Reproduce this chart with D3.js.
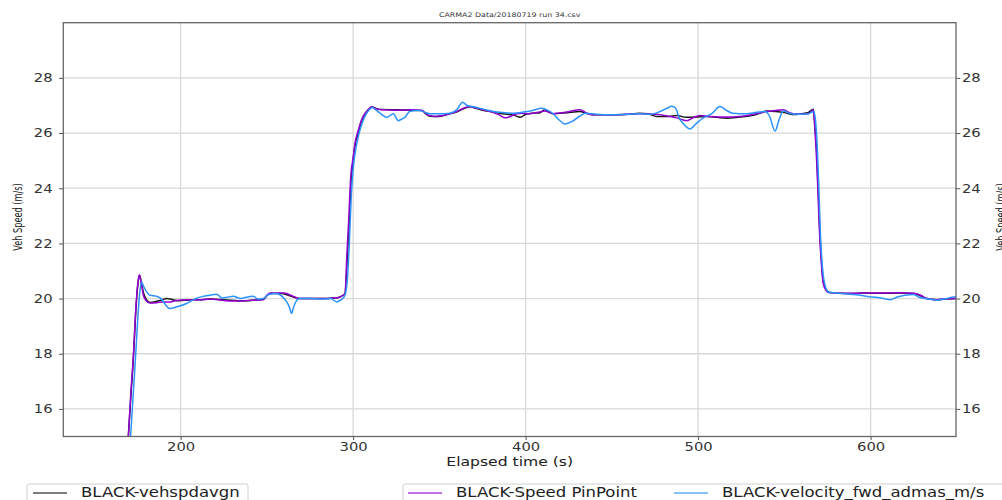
<!DOCTYPE html>
<html>
<head>
<meta charset="utf-8">
<script src="https://cdn.jsdelivr.net/npm/d3@7"></script>
<style>
  html, body { margin: 0; padding: 0; background: #fff; }
  svg { display: block; }
  text { font-family: "DejaVu Sans", sans-serif; }
</style>
</head>
<body>
<svg id="chart" width="1002" height="500"></svg>
<script>
// ---- data: elapsed time (s) and vehicle speed (m/s) per channel ----
const titleText = "CARMA2 Data/20180719 run 34.csv";
const xTicks = [200, 300, 400, 500, 600];
const yTicks = [16, 18, 20, 22, 24, 26, 28];
const seriesNames = ["BLACK-vehspdavgn", "BLACK-Speed PinPoint", "BLACK-velocity_fwd_admas_m/s"];

const vehspdavgn = [
  [167.5,13.0],[169.7,15.0],[171.2,16.5],[172.6,17.8],[174,19.5],[175.2,20.5],[176.1,20.85],[177.2,20.6],
  [178.5,20.2],[180.3,19.95],[182.3,19.86],[186,19.9],[189,19.95],[192,20.0],[196,19.95],[199,19.92],
  [205,19.95],[211,19.96],[217,19.98],[225,19.96],[236,19.92],[244,19.95],[248,19.97],[250,20.1],
  [252,20.18],[258.6,20.18],[262,20.13],[265.3,20.06],[269,20.0],[275,20.0],[282,20.0],[288.5,20.02],
  [292,20.05],[295.3,20.18],[296.6,21.4],[297.6,22.5],[298.8,24.2],[300,25.0],[301,25.5],[303,26.0],
  [305,26.45],[307,26.7],[309,26.85],[310.8,26.95],[313,26.9],[316,26.85],[325,26.84],[333,26.83],
  [340,26.82],[342,26.7],[344,26.62],[348,26.6],[352,26.63],[356,26.7],[360,26.76],[364,26.88],
  [367.8,26.95],[371,26.9],[375,26.83],[381,26.77],[387,26.7],[393,26.65],[397,26.57],[400,26.68],
  [404,26.72],[408,26.73],[411,26.84],[414,26.75],[416,26.7],[424,26.74],[431.5,26.78],[435,26.72],
  [439,26.66],[450,26.66],[460,26.68],[466,26.72],[471,26.7],[476,26.6],[482,26.6],[487.6,26.64],
  [493,26.57],[499,26.58],[505,26.6],[511,26.57],[516.6,26.54],[524,26.58],[532,26.64],[536,26.72],
  [539.8,26.8],[545,26.78],[550,26.74],[555,26.67],[560,26.7],[564,26.75],[566.8,26.86],[567.8,26.2],
  [568.7,25.3],[569.6,24.0],[570.5,22.5],[571.3,21.6],[572.6,20.6],[574,20.35],[575.5,20.24],[580,20.2],
  [590,20.18],[596,20.2],[605,20.19],[615,20.2],[625,20.18],[629,20.1],[632.5,20.0],[638,19.96],
  [644,19.98],[650,20.0]
];

const speedPinPoint = [
  [167.5,13.0],[169.7,15.0],[171.2,16.6],[172.6,17.9],[174,19.6],[175.2,20.55],[176.1,20.85],[177.2,20.55],
  [178.5,20.1],[180.3,19.9],[182.3,19.84],[186,19.85],[190,19.88],[194,19.88],[197,19.92],[200,19.95],
  [211,19.96],[217,19.98],[225,19.93],[230.5,19.91],[240,19.93],[248,19.97],[250,20.12],[252,20.2],
  [260,20.2],[265.3,20.08],[269,20.0],[275,20.0],[282,20.0],[288.5,20.02],[292,20.05],[295.3,20.18],
  [296.4,21.6],[297.4,22.8],[298.6,24.4],[300,25.1],[301,25.6],[303,26.1],[305,26.5],[307,26.72],
  [309,26.87],[310.8,26.95],[313,26.88],[318,26.84],[325,26.83],[333,26.84],[340,26.82],[342,26.72],
  [344,26.64],[348,26.6],[352,26.64],[356,26.7],[360,26.78],[364,26.9],[367.8,26.96],[371,26.92],
  [375,26.85],[381,26.75],[385,26.65],[388,26.55],[391,26.6],[395,26.7],[398,26.72],[402,26.7],
  [408,26.76],[411,26.8],[416,26.7],[424,26.76],[431.5,26.84],[435,26.74],[439,26.66],[450,26.66],
  [460,26.68],[466,26.7],[476,26.68],[482,26.62],[487.6,26.55],[493.4,26.45],[497,26.55],[501,26.64],
  [507,26.6],[516.6,26.58],[524,26.6],[532,26.68],[539.8,26.78],[545,26.82],[549.4,26.84],[553,26.74],
  [558,26.68],[564,26.7],[566.8,26.84],[567.6,26.2],[568.5,25.3],[569.4,24.0],[570.3,22.5],[571.1,21.6],
  [572.4,20.6],[573.8,20.33],[575.5,20.22],[580,20.2],[590,20.19],[596,20.2],[605,20.2],[615,20.21],
  [625,20.19],[629,20.12],[632.5,20.0],[638,19.96],[644,19.99],[650,20.0]
];

const velocityFwdAdmas = [
  [168.5,13.0],[171,15.0],[172.4,16.4],[173.8,17.8],[175.2,19.3],[176.3,20.2],[177.4,20.6],[178.5,20.45],
  [180.3,20.24],[182.3,20.12],[186.1,20.08],[189,19.98],[191,19.8],[193.9,19.64],[197.7,19.7],[203.5,19.82],
  [208,19.98],[213,20.08],[217,20.12],[220.9,20.16],[224,20.02],[227,20.05],[230.5,20.08],[235,20.0],
  [238,20.05],[242.1,20.08],[245,19.98],[248,20.0],[251,20.15],[255,20.18],[257.6,20.14],[260,20.0],
  [261.5,19.88],[263,19.7],[264.4,19.46],[265.3,19.65],[266.3,19.82],[269,20.0],[275,20.0],[282,19.98],
  [287,20.0],[290.5,19.88],[293,19.95],[295.3,20.12],[296.8,20.8],[297.8,22.0],[299,23.8],[300.2,24.8],
  [301.5,25.4],[303.5,26.0],[305.5,26.4],[307.5,26.68],[309.5,26.85],[311,26.93],[313,26.85],[316,26.7],
  [319.5,26.57],[323.3,26.7],[326.2,26.45],[328,26.5],[330,26.57],[333,26.79],[338,26.82],[342,26.75],
  [344.5,26.7],[350,26.7],[356,26.72],[360,26.84],[363.5,27.12],[366,27.0],[368,26.97],[372,26.92],
  [378,26.83],[385,26.75],[392,26.72],[398.6,26.76],[404,26.82],[409.3,26.9],[412,26.85],[416,26.7],
  [419,26.5],[422.8,26.33],[427,26.42],[431,26.6],[435,26.72],[441,26.68],[450,26.66],[460,26.68],
  [466,26.7],[472,26.68],[478,26.78],[482,26.9],[484.7,26.97],[487,26.9],[489,26.55],[492,26.3],
  [495.3,26.15],[499,26.35],[503,26.55],[507.9,26.7],[512.7,26.96],[516,26.84],[520,26.72],[528,26.7],
  [535,26.76],[539,26.78],[541.5,26.6],[544.6,26.07],[547,26.5],[549.4,26.8],[553,26.72],[558,26.68],
  [564,26.7],[567,26.78],[568,26.5],[569,25.6],[570,24.0],[571,22.2],[572,21.2],[573.5,20.5],
  [575.5,20.24],[580,20.2],[588.2,20.16],[594,20.12],[599.8,20.06],[603,20.05],[607.5,20.0],[611.4,19.96],
  [615,20.05],[620,20.12],[624.8,20.15],[628,20.05],[632,20.0],[638.4,19.94],[644,20.0],[648,20.06],
  [650,20.05]
];

// ---- layout ----
const plot = { left: 63.3, right: 956, top: 22.7, bottom: 436.5 };
const SX = 1.25;              // horizontal stretch applied to glyphs
const colors = ["#1a1a1a", "#9400d3", "#2b93ff"];

const svg = d3.select("#chart");
const x = d3.scaleLinear().domain([132, 649.5]).range([plot.left, plot.right]);
const y = d3.scaleLinear().domain([15, 30]).range([plot.bottom, plot.top]);

// grid
const grid = svg.append("g").attr("stroke", "#d8d8d8").attr("stroke-width", 1.3);
grid.selectAll("line.gx").data(xTicks).join("line")
  .attr("x1", d => x(d)).attr("x2", d => x(d))
  .attr("y1", plot.top).attr("y2", plot.bottom);
grid.selectAll("line.gy").data(yTicks).join("line")
  .attr("x1", plot.left).attr("x2", plot.right)
  .attr("y1", d => y(d)).attr("y2", d => y(d));

// series
svg.append("clipPath").attr("id", "plotclip").append("rect")
  .attr("x", plot.left).attr("y", plot.top)
  .attr("width", plot.right - plot.left).attr("height", plot.bottom - plot.top);

const line = d3.line().x(d => x(d[0])).y(d => y(d[1])).curve(d3.curveMonotoneX);
const lines = svg.append("g").attr("clip-path", "url(#plotclip)").attr("fill", "none")
  .attr("stroke-linejoin", "round").attr("stroke-linecap", "round");
[vehspdavgn, speedPinPoint, velocityFwdAdmas].forEach((s, i) => {
  lines.append("path").datum(s).attr("d", line)
    .attr("stroke", colors[i]).attr("stroke-width", 1.5);
});

// axes
function styleAxis(g) {
  g.select(".domain").remove();
  g.selectAll(".tick line").attr("stroke", "#555").attr("stroke-width", 1);
  g.selectAll(".tick text").attr("fill", "#333")
    .style("font-size", "11.8px");
}

const gx = svg.append("g").attr("transform", `translate(0,${plot.bottom})`)
  .call(d3.axisBottom(x).tickValues(xTicks).tickSize(3.5).tickPadding(3).tickFormat(d3.format("d")));
styleAxis(gx);
gx.selectAll(".tick text").attr("transform", `scale(${SX},1)`).attr("y", 6.2);

const gyl = svg.append("g").attr("transform", `translate(${plot.left},0)`)
  .call(d3.axisLeft(y).tickValues(yTicks).tickSize(4.3).tickFormat(d3.format("d")));
styleAxis(gyl);
gyl.selectAll(".tick text").attr("transform", `scale(${SX},1)`).attr("x", -8.6);

const gyr = svg.append("g").attr("transform", `translate(${plot.right},0)`)
  .call(d3.axisRight(y).tickValues(yTicks).tickSize(4.3).tickFormat(d3.format("d")));
styleAxis(gyr);
gyr.selectAll(".tick text").attr("transform", `scale(${SX},1)`).attr("x", 4.8);

// frame
svg.append("rect")
  .attr("x", plot.left).attr("y", plot.top)
  .attr("width", plot.right - plot.left).attr("height", plot.bottom - plot.top)
  .attr("fill", "none").attr("stroke", "#666").attr("stroke-width", 1.3);

// title and axis labels
function stretchedText(tx, ty, str, size, opts = {}) {
  const sx = opts.sx || SX;
  return svg.append("text")
    .attr("transform", `translate(${tx},${ty}) scale(${sx},1)` + (opts.rotate ? ` rotate(${opts.rotate})` : ""))
    .attr("text-anchor", opts.anchor || "middle")
    .attr("fill", opts.fill || "#222")
    .style("font-size", size + "px")
    .text(str);
}
const midX = (plot.left + plot.right) / 2;
stretchedText(midX, 17, titleText, 6.3, { fill: "#333" });
stretchedText(midX, 466, "Elapsed time (s)", 12.5);
// vertical labels: the stretch widens the glyphs across the text direction
stretchedText(22, 217, "Veh Speed (m/s)", 8.2, { rotate: -90, sx: 1.6 });
stretchedText(1004.5, 217, "Veh Speed (m/s)", 8.2, { rotate: -90, sx: 1.6 });

// legends: one box for the first axis, one for the twin axis
function legend(bx, bw, entries) {
  const g = svg.append("g");
  g.append("rect").attr("x", bx).attr("y", 484).attr("width", bw).attr("height", 30)
    .attr("rx", 2).attr("fill", "#fff").attr("stroke", "#d0d0d0").attr("stroke-width", 1);
  entries.forEach(e => {
    g.append("line").attr("x1", e.x).attr("x2", e.x + 34).attr("y1", 493).attr("y2", 493)
      .attr("stroke", e.color).attr("stroke-width", 1.3).attr("opacity", 0.75);
    g.append("text").attr("transform", `translate(${e.x + 48},496.5) scale(${SX},1)`)
      .attr("fill", "#222").style("font-size", "13.2px").text(e.name);
  });
}
legend(27, 221, [{ x: 33, color: colors[0], name: seriesNames[0] }]);
legend(403, 640, [
  { x: 408, color: colors[1], name: seriesNames[1] },
  { x: 674, color: colors[2], name: seriesNames[2] }
]);
</script>
</body>
</html>
